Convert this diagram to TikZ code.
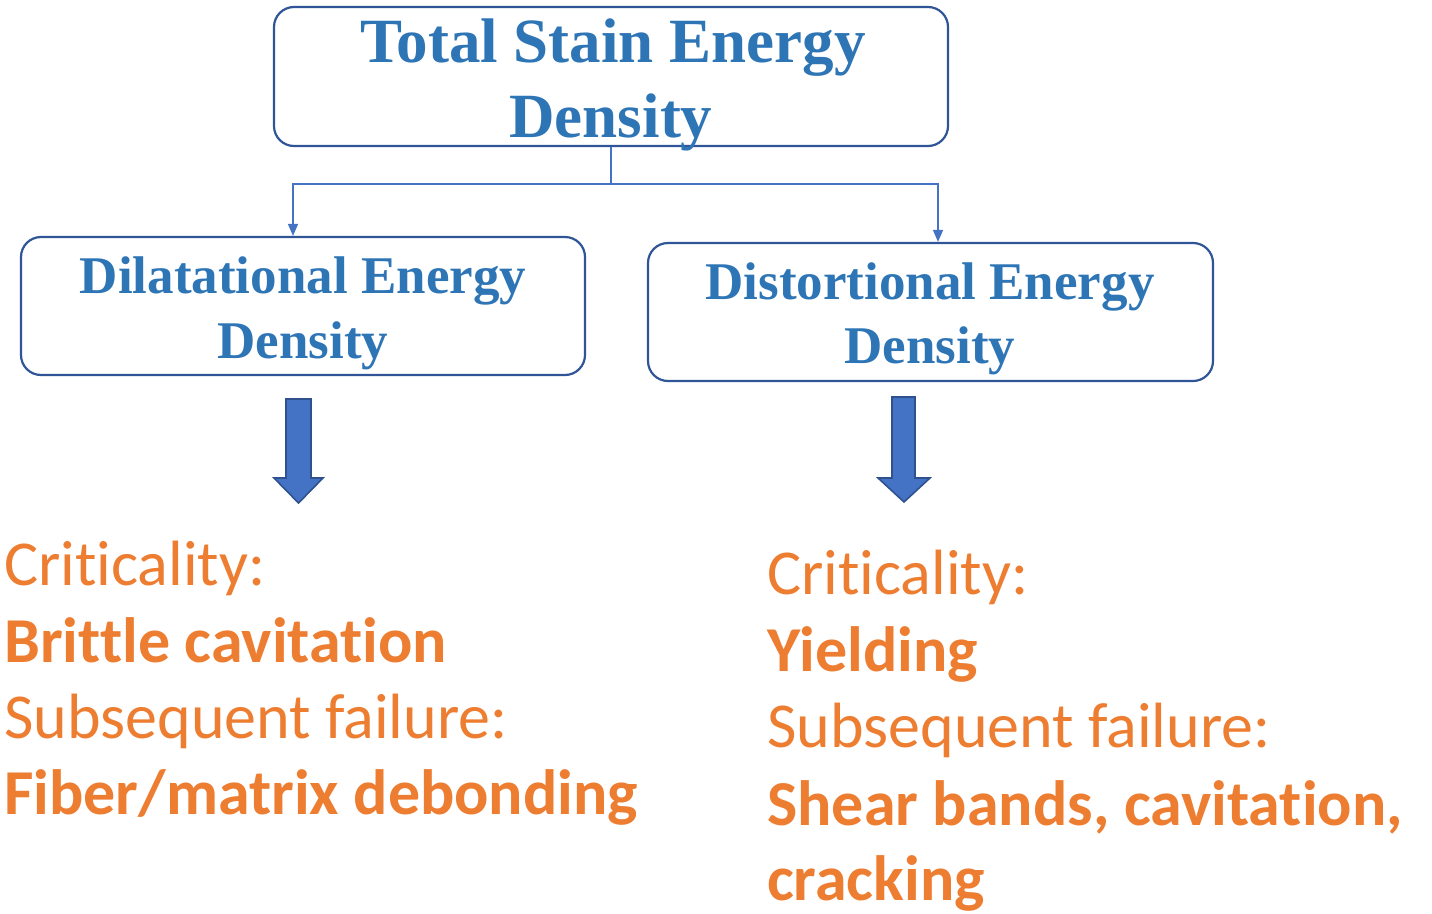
\documentclass[tikz,border=0pt]{standalone}
\usepackage{fontspec}
\setmainfont{Liberation Serif}
\newfontfamily\calibri[Ligatures={NoCommon,NoContextual}]{Carlito}
\usetikzlibrary{arrows.meta}

\definecolor{headblue}{HTML}{2E75B6}
\definecolor{boxblue}{HTML}{2F5597}
\definecolor{linkblue}{HTML}{4472C4}
\definecolor{arrowedge}{HTML}{2F528F}
\definecolor{failorange}{HTML}{ED7D31}

\tikzset{
  panel/.style={draw=boxblue,line width=2.2pt,rounded corners=20pt,inner sep=0pt},
  bighead/.style={text=headblue,anchor=base,inner sep=0pt,font=\bfseries\fontsize{63}{70}\selectfont},
  subhead/.style={text=headblue,anchor=base,inner sep=0pt,font=\bfseries\fontsize{53}{60}\selectfont},
  link/.style={draw=linkblue,line width=1.4pt},
  blockarrow/.style={fill=linkblue,draw=arrowedge,line width=1.6pt,line join=miter},
  crit/.style={text=failorange,anchor=base west,inner sep=0pt,font=\calibri\fontsize{64}{70}\selectfont},
  mode/.style={crit,font=\calibri\bfseries\fontsize{64}{70}\selectfont}
}

\begin{document}
\begin{tikzpicture}[x=1pt,y=-1pt]
\useasboundingbox (0,0) rectangle (1432,913);

% the three energy boxes
\draw (611,76.5) node[panel,minimum width=674,minimum height=139](total) {};
\draw (303,306) node[panel,minimum width=564,minimum height=138](dil) {};
\draw (930.5,312) node[panel,minimum width=565,minimum height=138](dis) {};

\draw (613,62) node[bighead](totalA) {Total Stain Energy};
\draw (611,137) node[bighead](totalB) {Density};
\draw (303,293) node[subhead](dilA) {Dilatational Energy};
\draw (303,358) node[subhead](dilB) {Density};
\draw (930,299) node[subhead](disA) {Distortional Energy};
\draw (930,363) node[subhead](disB) {Density};

% split into the two parts
\coordinate (split) at (611,184);
\draw[link] (total.south) -- (split);
\draw[link,-{Triangle[length=12pt,width=10pt]}] (split) -| ([xshift=-10]dil.north);
\draw[link,-{Triangle[length=12pt,width=10pt]}] (split) -| ([xshift=7.5]dis.north);

% block arrows
\draw[blockarrow] (286,399) -- (311,399) -- (311,478) -- (323,478) -- (298.5,503)
  -- (274,478) -- (286,478) -- cycle;
\draw[blockarrow] (892,397) -- (915,397) -- (915,478) -- (930,478) -- (904,502)
  -- (878,478) -- (892,478) -- cycle;

% failure modes
\draw (4,585) node[crit](critL) {Criticality:};
\draw (4,662) node[mode](modeL) {Brittle cavitation};
\draw (4,738) node[crit](subL) {Subsequent failure:};
\draw (4,814) node[mode](failL) {Fiber/matrix debonding};

\draw (767,594) node[crit](critR) {Criticality:};
\draw (767,671) node[mode](modeR) {Yielding};
\draw (767,747) node[crit](subR) {Subsequent failure:};
\draw (767,825) node[mode](failR) {Shear bands, cavitation,};
\draw (767,900) node[mode](failRb) {cracking};
\end{tikzpicture}
\end{document}
